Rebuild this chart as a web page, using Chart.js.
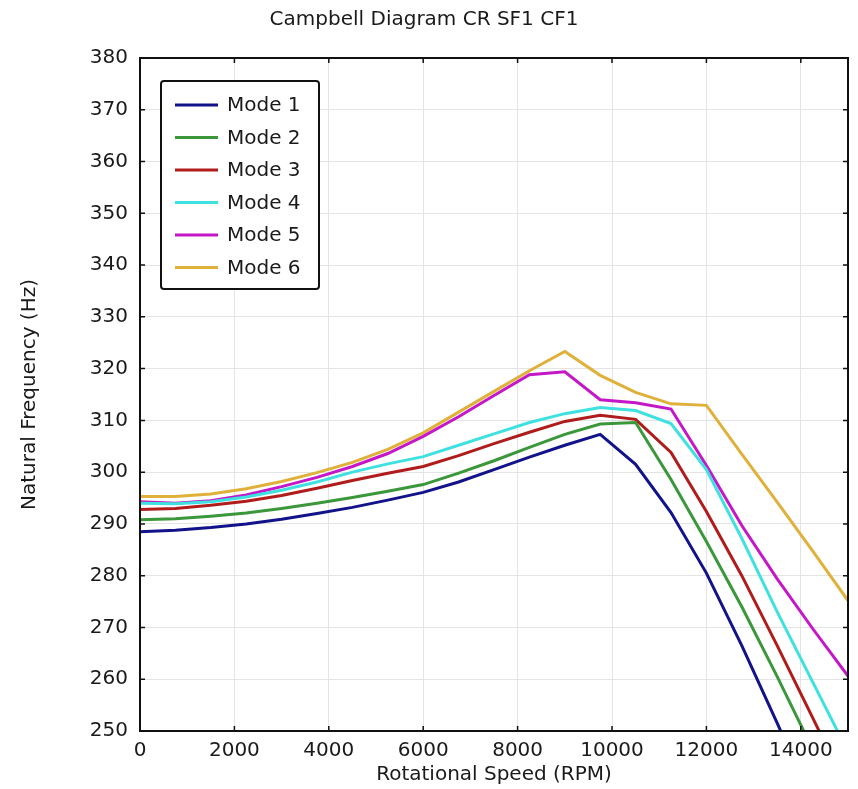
<!DOCTYPE html>
<html>
<head>
<meta charset="utf-8">
<script src="https://cdn.jsdelivr.net/npm/chart.js@4.4.1/dist/chart.umd.min.js"></script>
<style>
  body { margin: 0; background: #fff; }
  canvas { display: block; }
</style>
</head>
<body>
<canvas id="chart" width="858" height="789"></canvas>
<script>
// rotational speed samples (RPM)
const rpm = [0, 750, 1500, 2250, 3000, 3750, 4500, 5250, 6000, 6750, 7500,
             8250, 9000, 9750, 10500, 11250, 12000, 12750, 13500, 14250, 15000];

// natural frequency per mode (Hz)
const mode1 = [288.5, 288.8, 289.3, 290.0, 290.9, 292.0, 293.2, 294.6, 296.1, 298.1, 300.5,
               302.9, 305.2, 307.3, 301.5, 292.2, 280.5, 266.5, 251.5, 236.5, 221.5];
const mode2 = [290.8, 291.0, 291.5, 292.1, 293.0, 294.0, 295.1, 296.3, 297.6, 299.8, 302.2,
               304.8, 307.3, 309.3, 309.6, 298.6, 286.6, 274.0, 260.5, 246.5, 232.5];
const mode3 = [292.8, 293.0, 293.6, 294.4, 295.5, 296.9, 298.4, 299.8, 301.1, 303.2, 305.5,
               307.7, 309.8, 311.0, 310.2, 303.8, 292.4, 280.0, 266.5, 252.6, 238.5];
const mode4 = [294.0, 293.9, 294.3, 295.2, 296.5, 298.1, 300.0, 301.6, 303.0, 305.2, 307.4,
               309.6, 311.3, 312.5, 311.9, 309.4, 300.5, 287.2, 273.0, 259.5, 246.0];
const mode5 = [294.3, 294.0, 294.5, 295.6, 297.2, 299.0, 301.1, 303.6, 306.9, 310.7, 314.8,
               318.8, 319.4, 314.0, 313.4, 312.2, 301.3, 289.7, 279.4, 269.8, 260.6];
const mode6 = [295.3, 295.3, 295.8, 296.8, 298.2, 299.9, 301.9, 304.4, 307.6, 311.6, 315.6,
               319.6, 323.3, 318.7, 315.4, 313.2, 312.9, 303.5, 294.2, 284.8, 275.2];

const modeNames = ['Mode 1', 'Mode 2', 'Mode 3', 'Mode 4', 'Mode 5', 'Mode 6'];
const modeColors = ['#12128a', '#3a973a', '#b01c1c', '#3fe0e0', '#c417c8', '#dfb13a'];
const modes = [mode1, mode2, mode3, mode4, mode5, mode6];

// tick positions
const xTicks = [0, 2000, 4000, 6000, 8000, 10000, 12000, 14000];
const yTicks = [250, 260, 270, 280, 290, 300, 310, 320, 330, 340, 350, 360, 370, 380];

const FONT = "'DejaVu Sans', sans-serif";
const TEXT = '#1a1a1a';

// matplotlib-like box with inward ticks
const framePlugin = {
    id: 'frame',
    afterDatasetsDraw(chart) {
        const { ctx, chartArea: a, scales } = chart;
        ctx.save();
        ctx.strokeStyle = '#111';
        ctx.lineWidth = 1.5;
        ctx.beginPath();
        scales.x.ticks.forEach(t => {
            const px = scales.x.getPixelForValue(t.value);
            ctx.moveTo(px, a.bottom); ctx.lineTo(px, a.bottom - 5);
            ctx.moveTo(px, a.top); ctx.lineTo(px, a.top + 5);
        });
        scales.y.ticks.forEach(t => {
            const py = scales.y.getPixelForValue(t.value);
            ctx.moveTo(a.left, py); ctx.lineTo(a.left + 5, py);
            ctx.moveTo(a.right, py); ctx.lineTo(a.right - 5, py);
        });
        ctx.stroke();
        ctx.lineWidth = 2;
        ctx.strokeRect(a.left, a.top, a.right - a.left, a.bottom - a.top);
        ctx.restore();
    }
};

// legend box in the upper left corner of the plot
const boxLegend = {
    id: 'boxLegend',
    afterDraw(chart) {
        const { ctx, chartArea: a } = chart;
        const x0 = a.left + 21, y0 = a.top + 23, w = 158, h = 208;
        ctx.save();
        ctx.fillStyle = '#fff';
        ctx.strokeStyle = '#111';
        ctx.lineWidth = 2;
        ctx.beginPath();
        ctx.roundRect(x0, y0, w, h, 3);
        ctx.fill();
        ctx.stroke();
        ctx.font = '20px ' + FONT;
        ctx.textBaseline = 'middle';
        ctx.fillStyle = TEXT;
        chart.data.datasets.forEach((ds, i) => {
            const y = y0 + 24 + i * 32.5;
            ctx.strokeStyle = ds.borderColor;
            ctx.lineWidth = 3;
            ctx.beginPath();
            ctx.moveTo(x0 + 14, y);
            ctx.lineTo(x0 + 57, y);
            ctx.stroke();
            ctx.fillText(ds.label, x0 + 66, y + 1);
        });
        ctx.restore();
    }
};

const ctx = document.getElementById('chart').getContext('2d');

new Chart(ctx, {
    type: 'line',
    data: {
        datasets: modes.map((m, i) => ({
            label: modeNames[i],
            data: rpm.map((r, j) => ({ x: r, y: m[j] })),
            borderColor: modeColors[i],
            backgroundColor: modeColors[i],
            borderWidth: 3,
            pointRadius: 0,
            tension: 0,
            fill: false
        }))
    },
    options: {
        responsive: false,
        animation: false,
        layout: { padding: { left: 0, right: 10, top: 0, bottom: 0 } },
        plugins: {
            legend: { display: false },
            tooltip: { enabled: false },
            title: {
                display: true,
                text: 'Campbell Diagram CR SF1 CF1',
                color: TEXT,
                font: { family: FONT, size: 20, weight: 'normal' },
                padding: { top: 8, bottom: 26 }
            }
        },
        scales: {
            x: {
                type: 'linear',
                min: 0,
                max: 15000,
                afterFit(scale) { scale.height = 58; },
                afterBuildTicks(scale) { scale.ticks = xTicks.map(v => ({ value: v })); },
                ticks: {
                    color: TEXT,
                    padding: 8,
                    maxRotation: 0,
                    autoSkip: false,
                    callback: v => String(v),
                    font: { family: FONT, size: 20 }
                },
                grid: { color: '#e4e4e4', lineWidth: 1, drawTicks: false },
                border: { display: false },
                title: {
                    display: true,
                    text: 'Rotational Speed (RPM)',
                    color: TEXT,
                    font: { family: FONT, size: 20 },
                    padding: { top: 0, bottom: 2 }
                }
            },
            y: {
                min: 250,
                max: 380,
                afterFit(scale) { scale.width = 140; },
                afterBuildTicks(scale) { scale.ticks = yTicks.map(v => ({ value: v })); },
                ticks: {
                    color: TEXT,
                    padding: 12,
                    autoSkip: false,
                    callback: v => String(v),
                    font: { family: FONT, size: 20 }
                },
                grid: { color: '#e4e4e4', lineWidth: 1, drawTicks: false },
                border: { display: false },
                title: {
                    display: true,
                    text: 'Natural Frequency (Hz)',
                    color: TEXT,
                    font: { family: FONT, size: 20 },
                    padding: { top: 18, bottom: 0 }
                }
            }
        }
    },
    plugins: [framePlugin, boxLegend]
});
</script>
</body>
</html>
